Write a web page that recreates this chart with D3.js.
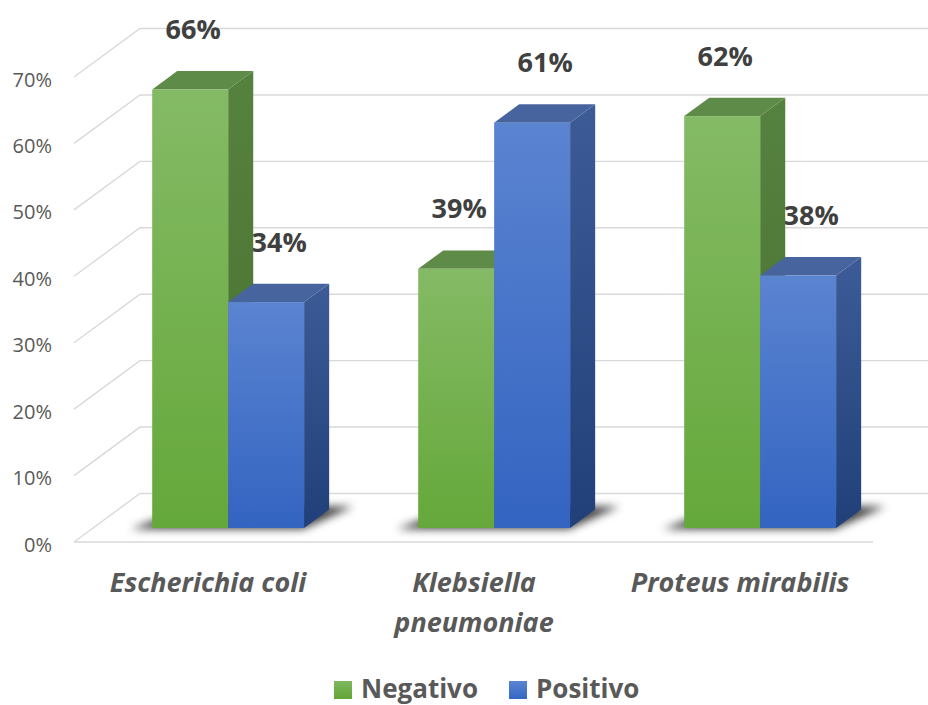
<!DOCTYPE html>
<html>
<head>
<meta charset="utf-8">
<script src="https://cdn.jsdelivr.net/npm/d3@7"></script>
<style>
  body { margin: 0; background: #ffffff; }
  svg { display: block; }
</style>
</head>
<body>
<svg id="chart" width="928" height="705"></svg>
<script>
// ---- data ----
const categories = ["Escherichia coli", "Klebsiella pneumoniae", "Proteus mirabilis"];
const categoryLines = [["Escherichia coli"], ["Klebsiella", "pneumoniae"], ["Proteus mirabilis"]];
const seriesNames = ["Negativo", "Positivo"];
const negativo = [0.66, 0.39, 0.62];
const positivo = [0.34, 0.61, 0.38];
const yTicks = [0, 0.1, 0.2, 0.3, 0.4, 0.5, 0.6, 0.7];

const seriesValues = [negativo, positivo];

// ---- layout / 3D oblique projection ----
const W = 928, H = 705;
const DX = 66, DY = -48.5;          // offset of the back wall relative to the front edge
const barFront = 0.29, barBack = 0.67; // bar depth as a fraction of the floor depth

const svg = d3.select("#chart");
const defs = svg.append("defs");

const x = d3.scaleBand().domain(categories).range([76, 874]).padding(0);
const y = d3.scaleLinear().domain([0, 0.7]).range([542, 77]);
const groupFrac = 0.571;
const xs = d3.scaleBand().domain(seriesNames)
  .range([0, x.bandwidth() * groupFrac]).padding(0);

const P = (px, v, d) => [px + d * DX, y(v) + d * DY];
const fmt = d3.format(".0%");

// ---- styles ----
const style = {
  Negativo: {
    front: ["#84ba65", "#65a83a"],
    side: ["#56823f", "#476f2d"],
    top: "#5f8b48",
    legend: ["#7fb75e", "#62a535"],
    labelShift: 3
  },
  Positivo: {
    front: ["#5b84d1", "#3364c1"],
    side: ["#3d5b96", "#213f79"],
    top: "#48649e",
    legend: ["#5a84d1", "#3467c4"],
    labelShift: 13
  }
};
seriesNames.forEach(s => {
  const mk = (id, c) => {
    const g = defs.append("linearGradient").attr("id", id)
      .attr("x1", 0).attr("y1", 0).attr("x2", 0).attr("y2", 1);
    g.append("stop").attr("offset", "0%").attr("stop-color", c[0]);
    g.append("stop").attr("offset", "100%").attr("stop-color", c[1]);
  };
  mk("front-" + s, style[s].front);
  mk("side-" + s, style[s].side);
  mk("legend-" + s, style[s].legend);
});
const blur = defs.append("filter").attr("id", "shadowBlur")
  .attr("x", "-30%").attr("y", "-60%").attr("width", "160%").attr("height", "220%");
blur.append("feGaussianBlur").attr("stdDeviation", 4.5);

// ---- gridlines (side wall diagonals + back wall) ----
const grid = svg.append("g").attr("stroke", "#d9d9d9").attr("stroke-width", 1.4).attr("fill", "none");
yTicks.forEach(t => {
  const a = P(74, t, 0), b = P(74, t, 1);
  grid.append("path").attr("d", d3.line()([a, b, [W, b[1]]]));
});
// front floor edge
grid.append("line")
  .attr("x1", 74).attr("x2", 873)
  .attr("y1", y(0)).attr("y2", y(0));

// ---- y axis labels ----
svg.append("g")
  .selectAll("text").data(yTicks).join("text")
  .attr("x", 52).attr("y", d => y(d) + 2)
  .attr("text-anchor", "end").attr("dominant-baseline", "central")
  .attr("font-family", "'Open Sans', sans-serif").attr("font-size", 20)
  .attr("fill", "#595959")
  .text(d => fmt(d));

// ---- bar geometry ----
const bars = [];
categories.forEach((c, i) => {
  const g0 = x(c) + (x.bandwidth() * (1 - groupFrac)) / 2;
  seriesNames.forEach((s, j) => {
    bars.push({ cat: c, i, s, j, v: seriesValues[j][i], x0: g0 + xs(s), x1: g0 + xs(s) + xs.bandwidth() });
  });
});

// soft shadows on the floor under each cluster
const shadowG = svg.append("g").attr("filter", "url(#shadowBlur)");
categories.forEach((c, i) => {
  const g0 = x(c) + (x.bandwidth() * (1 - groupFrac)) / 2;
  const g1 = g0 + x.bandwidth() * groupFrac;
  const pts = [
    P(g0 - 20, 0, barFront - 0.02),
    P(g1, 0, barFront - 0.02),
    P(g1 + 20, 0, barBack + 0.06),
    P(g0 + 10, 0, barBack + 0.06)
  ];
  shadowG.append("path").attr("d", d3.line()(pts) + "Z")
    .attr("fill", "#000").attr("fill-opacity", 0.75);
});

// ---- value labels (drawn before the bars, which may overlap them) ----
svg.append("g")
  .selectAll("text").data(bars).join("text")
  .attr("x", d => (d.x0 + d.x1) / 2 + barFront * DX + style[d.s].labelShift)
  .attr("y", d => P(d.x0, d.v, barBack)[1] - 32)
  .attr("text-anchor", "middle")
  .attr("font-family", "'Open Sans', sans-serif").attr("font-weight", 700)
  .attr("font-size", 27).attr("fill", "#404040")
  .text(d => fmt(d.v));

// ---- bars ----
const barG = svg.append("g");
bars.forEach(b => {
  const g = barG.append("g");
  const fbl = P(b.x0, 0, barFront), fbr = P(b.x1, 0, barFront);
  const ftl = P(b.x0, b.v, barFront), ftr = P(b.x1, b.v, barFront);
  const btl = P(b.x0, b.v, barBack), btr = P(b.x1, b.v, barBack);
  const bbr = P(b.x1, 0, barBack);
  // side face
  g.append("path").attr("d", d3.line()([fbr, ftr, btr, bbr]) + "Z")
    .attr("fill", `url(#side-${b.s})`);
  // top face
  g.append("path").attr("d", d3.line()([ftl, ftr, btr, btl]) + "Z")
    .attr("fill", style[b.s].top);
  // front face
  g.append("rect")
    .attr("x", fbl[0]).attr("y", ftl[1])
    .attr("width", fbr[0] - fbl[0]).attr("height", fbl[1] - ftl[1])
    .attr("fill", `url(#front-${b.s})`);
});

// ---- category labels ----
const catG = svg.append("g")
  .attr("font-family", "'Open Sans', sans-serif").attr("font-weight", 700)
  .attr("font-style", "italic").attr("font-size", 27).attr("fill", "#595959")
  .attr("text-anchor", "middle");
categories.forEach((c, i) => {
  const cx = x(c) + x.bandwidth() / 2 - 1;
  categoryLines[i].forEach((line, k) => {
    catG.append("text").attr("x", cx).attr("y", 592 + k * 40).text(line);
  });
});

// ---- legend ----
const legend = svg.append("g")
  .attr("font-family", "'Open Sans', sans-serif").attr("font-weight", 700)
  .attr("font-size", 26).attr("fill", "#595959");
const legendX = [334, 509];
seriesNames.forEach((s, j) => {
  legend.append("rect").attr("x", legendX[j]).attr("y", 681)
    .attr("width", 18).attr("height", 18).attr("fill", `url(#legend-${s})`);
  legend.append("text").attr("x", legendX[j] + 27).attr("y", 698).text(s);
});
</script>
</body>
</html>
